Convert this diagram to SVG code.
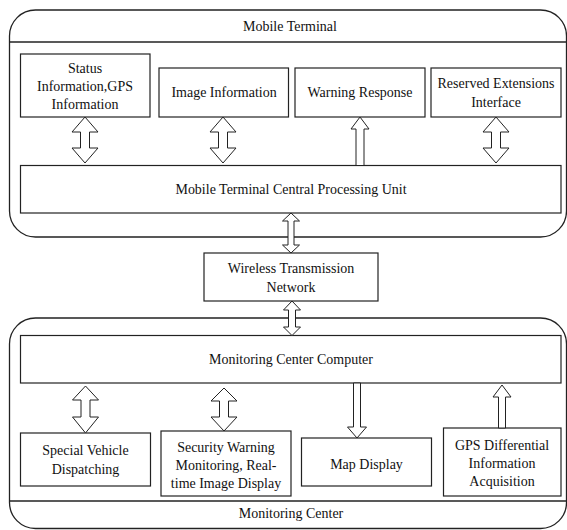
<svg xmlns="http://www.w3.org/2000/svg" width="567" height="530" viewBox="0 0 567 530">
  <style>
    .frame { fill: none; stroke: #222; stroke-width: 1.3; }
    .box { fill: #fff; stroke: #222; stroke-width: 1.2; }
    .arrow { fill: #fff; stroke: #222; stroke-width: 1; stroke-linejoin: miter; }
    text { font-family: "Liberation Serif", "Times New Roman", serif; font-size: 15px; fill: #111; text-anchor: middle;
           transform-box: fill-box; transform-origin: center; transform: scaleX(0.933); }
  </style>
  <rect width="567" height="530" fill="#fff"/>

  <!-- Mobile terminal container -->
  <g id="mobile-terminal">
    <rect class="frame" x="9.5" y="10" width="557" height="227" rx="26" ry="26"/>
    <line class="frame" x1="9.5" y1="42" x2="566.5" y2="42"/>
    <text x="290" y="31">Mobile Terminal</text>
  </g>

  <g id="status-info">
    <rect class="box" x="20.5" y="54" width="129.5" height="63"/>
    <text x="85" y="73">Status</text>
    <text x="85" y="91">Information,GPS</text>
    <text x="85" y="109">Information</text>
  </g>
  <g id="image-info">
    <rect class="box" x="159" y="68" width="129.5" height="49"/>
    <text x="224" y="97">Image Information</text>
  </g>
  <g id="warning-response">
    <rect class="box" x="295" y="68" width="130" height="49"/>
    <text x="360" y="97">Warning Response</text>
  </g>
  <g id="reserved-ext">
    <rect class="box" x="431" y="68" width="130" height="49"/>
    <text x="496" y="88">Reserved Extensions</text>
    <text x="496" y="107">Interface</text>
  </g>
  <g id="mobile-cpu">
    <rect class="box" x="20.5" y="165.5" width="540.5" height="47.5"/>
    <text x="291" y="194">Mobile Terminal Central Processing Unit</text>
  </g>

  <g id="wireless-network">
    <rect class="box" x="204" y="253" width="174" height="48"/>
    <text x="291" y="273">Wireless Transmission</text>
    <text x="291" y="292">Network</text>
  </g>

  <!-- Monitoring center container -->
  <g id="monitoring-center">
    <rect class="frame" x="9.5" y="318" width="557" height="210.5" rx="26" ry="26"/>
    <line class="frame" x1="9.5" y1="501" x2="566.5" y2="501"/>
    <text x="291" y="518">Monitoring Center</text>
  </g>
  <g id="center-computer">
    <rect class="box" x="20.5" y="335.5" width="540.5" height="47.5"/>
    <text x="291" y="364">Monitoring Center Computer</text>
  </g>
  <g id="vehicle-dispatch">
    <rect class="box" x="20.5" y="433" width="130" height="53"/>
    <text x="85.5" y="455">Special Vehicle</text>
    <text x="85.5" y="474">Dispatching</text>
  </g>
  <g id="security-warning">
    <rect class="box" x="161" y="431" width="130" height="65"/>
    <text x="226" y="452">Security Warning</text>
    <text x="226" y="470">Monitoring, Real-</text>
    <text x="226" y="488">time Image Display</text>
  </g>
  <g id="map-display">
    <rect class="box" x="301.5" y="438" width="130" height="48"/>
    <text x="366.5" y="469">Map Display</text>
  </g>
  <g id="gps-differential">
    <rect class="box" x="443.5" y="428" width="117.5" height="68"/>
    <text x="502" y="450">GPS Differential</text>
    <text x="502" y="468">Information</text>
    <text x="502" y="486">Acquisition</text>
  </g>

  <!-- Hollow block arrows between units -->
  <g id="connectors">
    <path class="arrow" d="M85,117 L98,132 L89.5,132 L89.5,148 L98,148 L85,163 L72,148 L80.5,148 L80.5,132 L72,132 Z"/>
    <path class="arrow" d="M223,117 L236,132 L227.5,132 L227.5,148 L236,148 L223,163 L210,148 L218.5,148 L218.5,132 L210,132 Z"/>
    <path class="arrow" d="M360,117 L369,129 L364,129 L364,165.5 L356,165.5 L356,129 L351,129 Z"/>
    <path class="arrow" d="M496,117 L509,132 L500.5,132 L500.5,148 L509,148 L496,163 L483,148 L491.5,148 L491.5,132 L483,132 Z"/>
    <path class="arrow" d="M291,213 L299.5,221 L294,221 L294,245 L299.5,245 L291,253 L282.5,245 L288,245 L288,221 L282.5,221 Z"/>
    <path class="arrow" d="M292,301 L300.5,310 L295.5,310 L295.5,327 L300.5,327 L292,335.5 L283.5,327 L288.5,327 L288.5,310 L283.5,310 Z"/>
    <path class="arrow" d="M85.5,386 L98.5,400 L90,400 L90,417 L98.5,417 L85.5,433 L72.5,417 L81,417 L81,400 L72.5,400 Z"/>
    <path class="arrow" d="M224,388 L237,401 L228.5,401 L228.5,417 L237,417 L224,431 L211,417 L219.5,417 L219.5,401 L211,401 Z"/>
    <path class="arrow" d="M353.5,383 L360.5,383 L360.5,427 L366.5,427 L357,438 L347.5,427 L353.5,427 Z"/>
    <path class="arrow" d="M502,385 L511,397 L505.5,397 L505.5,428 L498.5,428 L498.5,397 L493,397 Z"/>
  </g>
</svg>
